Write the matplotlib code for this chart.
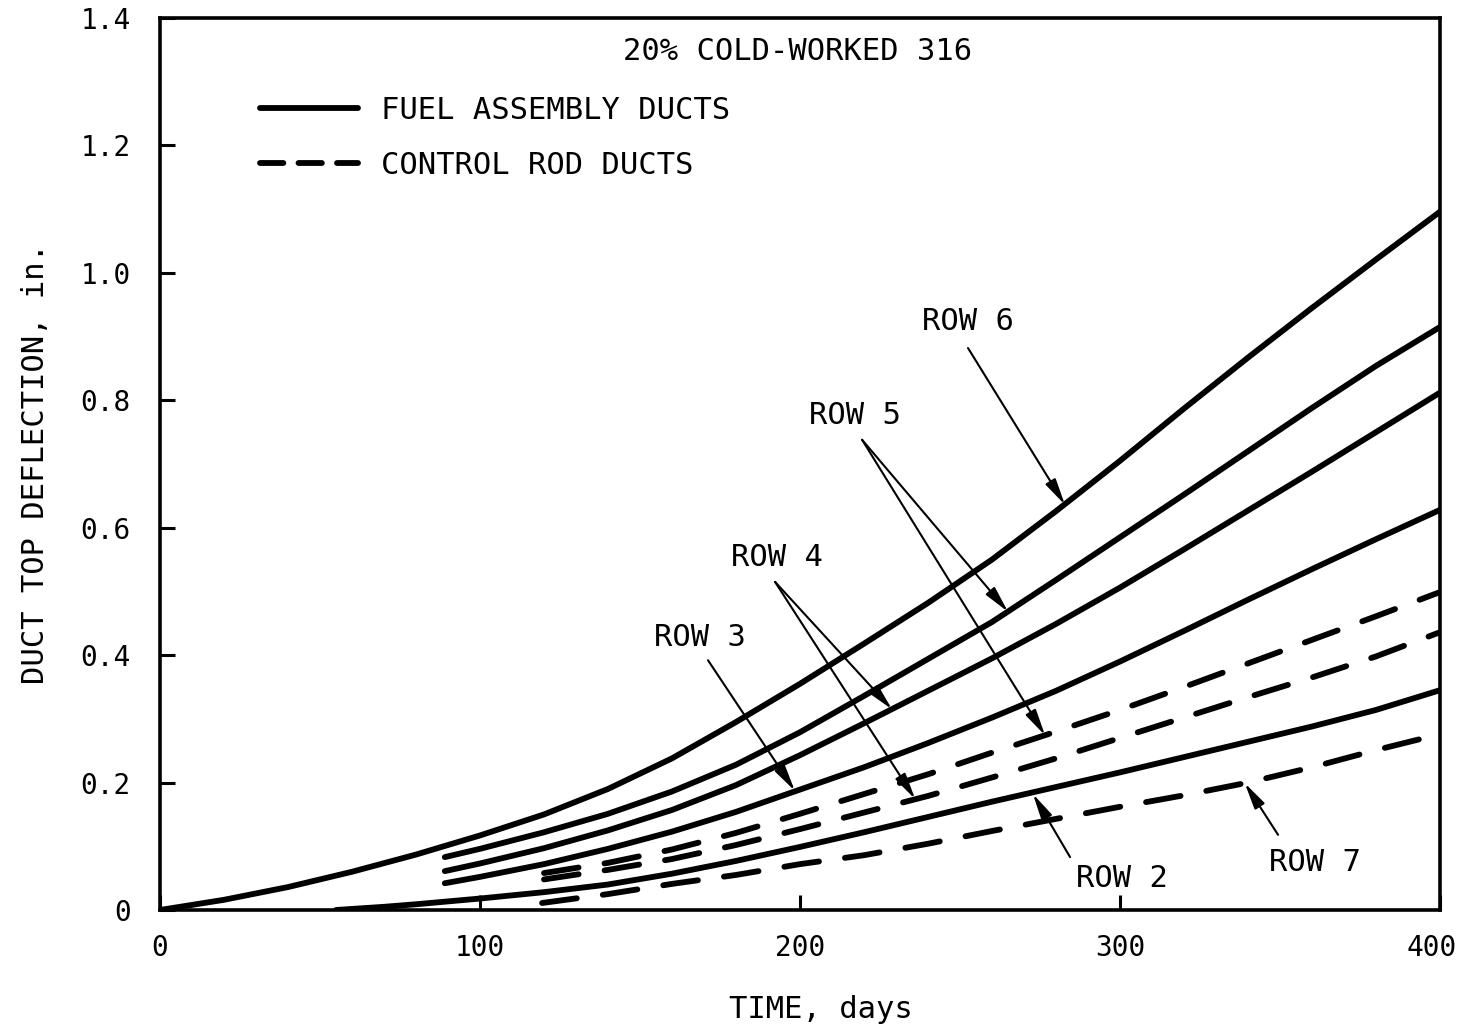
import matplotlib.pyplot as plt
import matplotlib.transforms as mtransforms
from matplotlib.lines import Line2D

plt.rcParams['font.family'] = 'DejaVu Sans Mono'

# fuel assembly ducts (solid curves), time in days vs deflection in inches
row6_fuel_days = [0, 20, 40, 60, 80, 100, 120, 140, 160, 180, 200, 220, 240, 260, 280, 300, 320, 340, 360, 380, 400]
row6_fuel_defl = [0, 0.016, 0.036, 0.060, 0.087, 0.117, 0.150, 0.190, 0.238, 0.295, 0.355, 0.418, 0.482,
                  0.550, 0.626, 0.705, 0.787, 0.867, 0.945, 1.021, 1.096]

row5_fuel_days = [89, 100, 120, 140, 160, 180, 200, 220, 240, 260, 280, 300, 320, 340, 360, 380, 400]
row5_fuel_defl = [0.083, 0.096, 0.122, 0.151, 0.186, 0.228, 0.279, 0.336, 0.394, 0.452, 0.518, 0.585,
                  0.652, 0.720, 0.788, 0.854, 0.915]

row4_fuel_days = [89, 100, 120, 140, 160, 180, 200, 220, 240, 260, 280, 300, 320, 340, 360, 380, 400]
row4_fuel_defl = [0.061, 0.073, 0.097, 0.125, 0.157, 0.196, 0.243, 0.293, 0.344, 0.395, 0.449, 0.506,
                  0.566, 0.627, 0.688, 0.750, 0.812]

row3_fuel_days = [89, 100, 120, 140, 160, 180, 200, 220, 240, 260, 280, 300, 320, 340, 360, 380, 400]
row3_fuel_defl = [0.042, 0.052, 0.072, 0.096, 0.123, 0.154, 0.189, 0.224, 0.262, 0.302, 0.344, 0.390,
                  0.438, 0.487, 0.535, 0.582, 0.628]

row2_fuel_days = [55, 70, 80, 100, 120, 140, 160, 180, 200, 220, 240, 260, 280, 300, 320, 340, 360, 380, 400]
row2_fuel_defl = [0, 0.005, 0.009, 0.018, 0.028, 0.040, 0.057, 0.077, 0.099, 0.122, 0.146, 0.170,
                  0.193, 0.216, 0.240, 0.264, 0.288, 0.314, 0.345]

# control rod ducts (dashed curves)
row5_ctrl_days = [120, 140, 160, 180, 200, 220, 240, 260, 280, 300, 320, 340, 360, 380, 400]
row5_ctrl_defl = [0.058, 0.074, 0.095, 0.121, 0.151, 0.182, 0.213, 0.247, 0.280, 0.314, 0.350, 0.387,
                  0.424, 0.461, 0.499]

row4_ctrl_days = [120, 140, 160, 180, 200, 220, 240, 260, 280, 300, 320, 340, 360, 380, 400]
row4_ctrl_defl = [0.048, 0.063, 0.080, 0.102, 0.127, 0.153, 0.179, 0.208, 0.238, 0.270, 0.302, 0.334,
                  0.365, 0.398, 0.436]

row7_ctrl_days = [119.4, 140, 160, 180, 200, 220, 240, 260, 280, 300, 320, 340, 360, 380, 400]
row7_ctrl_defl = [0.011, 0.025, 0.041, 0.055, 0.072, 0.086, 0.104, 0.124, 0.143, 0.162, 0.180, 0.200,
                  0.224, 0.251, 0.276]

x_ticks = [0, 100, 200, 300, 400]
y_ticks = [0, 0.2, 0.4, 0.6, 0.8, 1.0, 1.2, 1.4]
y_tick_labels = ['0', '0.2', '0.4', '0.6', '0.8', '1.0', '1.2', '1.4']

fig = plt.figure(figsize=(14.61, 10.27), dpi=100)
ax = fig.add_axes([160 / 1461, 1 - 910 / 1027, 1280 / 1461, 892 / 1027])

fuel = [(row6_fuel_days, row6_fuel_defl), (row5_fuel_days, row5_fuel_defl),
        (row4_fuel_days, row4_fuel_defl), (row3_fuel_days, row3_fuel_defl),
        (row2_fuel_days, row2_fuel_defl)]
ctrl = [(row5_ctrl_days, row5_ctrl_defl), (row4_ctrl_days, row4_ctrl_defl),
        (row7_ctrl_days, row7_ctrl_defl)]

for d, v in fuel:
    ax.plot(d, v, color='black', lw=4.2, solid_capstyle='round', solid_joinstyle='round')
for d, v in ctrl:
    ax.plot(d, v, color='black', lw=4.2, ls=(0, (6, 4.5)), dash_capstyle='round')

ax.set_xlim(0, 400)
ax.set_ylim(0, 1.4)
ax.set_xticks(x_ticks)
ax.set_xticklabels([str(t) for t in x_ticks])
ax.set_yticks(y_ticks)
ax.set_yticklabels(y_tick_labels)
ax.tick_params(direction='in', length=11, width=2.2, labelsize=20)
ax.tick_params(axis='x', pad=17)
ax.tick_params(axis='y', pad=21)
for s in ax.spines.values():
    s.set_linewidth(2.6)

# keep the last x label inside the figure edge
last = ax.get_xticklabels()[-1]
last.set_transform(last.get_transform() + mtransforms.ScaledTranslation(-8 / 100, 0, fig.dpi_scale_trans))

ax.set_xlabel('TIME, days', fontsize=22)
ax.xaxis.set_label_coords(0.516, -0.095)
ax.set_ylabel('DUCT TOP DEFLECTION, in.', fontsize=22, labelpad=22)

ax.text(0.498, 0.962, '20% COLD-WORKED 316', transform=ax.transAxes,
        ha='center', va='center', fontsize=22)

handles = [Line2D([], [], color='black', lw=4.2, solid_capstyle='round'),
           Line2D([], [], color='black', lw=4.2, ls=(0, (4, 2.6)), dash_capstyle='round')]
ax.legend(handles, ['FUEL ASSEMBLY DUCTS', 'CONTROL ROD DUCTS'], loc='upper left',
          bbox_to_anchor=(0.078, 0.913), frameon=False, fontsize=22,
          handlelength=3.2, handletextpad=0.75, labelspacing=0.85,
          borderpad=0, borderaxespad=0)

# row labels with leader arrows
arrow = dict(arrowstyle='-|>,head_length=1.6,head_width=0.35', color='black',
             lw=1.5, shrinkA=0, shrinkB=0, mutation_scale=10)
notes = [
    ('ROW 6', (252.5, 0.923), (252.5, 0.882), [(282.8, 0.636)]),
    ('ROW 5', (217.2, 0.776), (219.4, 0.738), [(265, 0.468), (276.6, 0.274)]),
    ('ROW 4', (192.8, 0.553), (192.2, 0.515), [(228.75, 0.315), (236, 0.174)]),
    ('ROW 3', (168.75, 0.427), (171.25, 0.392), [(198.4, 0.187)]),
    ('ROW 2', (300.6, 0.050), (284.4, 0.083), [(272.8, 0.182)]),
    ('ROW 7', (361, 0.075), (349.4, 0.118), [(339, 0.199)]),
]
for label, pos, tail, tips in notes:
    ax.text(pos[0], pos[1], label, ha='center', va='center', fontsize=22)
    for tip in tips:
        ax.annotate('', xy=tip, xytext=tail, arrowprops=arrow)

fig.savefig('out.png', dpi=100)
